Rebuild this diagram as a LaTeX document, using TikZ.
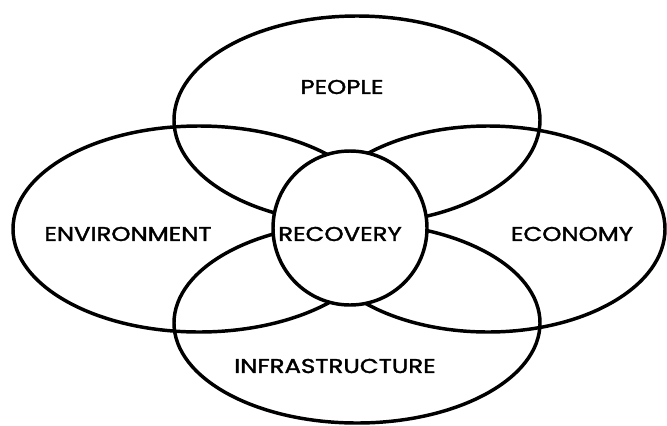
\documentclass[tikz,border=0pt]{standalone}
\usepackage{fontspec}
\setmainfont{Poppins}
\newfontfamily\lblfont{Poppins}[FakeBold=1.6]
\usetikzlibrary{shapes.geometric}

\begin{document}
\begin{tikzpicture}[x=0.75pt, y=-0.75pt,
    ring/.style={draw, line width=2.6pt, ellipse, inner sep=0pt},
    lbl/.style={font=\lblfont\fontsize{15}{17}\selectfont, inner sep=0pt, xscale=1.22, transform shape}]
  \useasboundingbox (0,0) rectangle (667,425);

  % outer ellipses
  \node[ring, minimum width=274.5pt, minimum height=156pt] (people) at (357,120) {};
  \node[ring, minimum width=274.5pt, minimum height=150pt] (infra) at (357,323) {};
  \node[ring, minimum width=279pt, minimum height=154.5pt] (env) at (199,229) {};
  \node[ring, minimum width=265.5pt, minimum height=154.5pt] (econ) at (488,229) {};

  % centre circle
  \node[ring, circle, fill=white, minimum size=115.5pt] (recovery) at (350,228) {};

  % labels
  \node[lbl] (peopletxt) at (342,87) {PEOPLE};
  \node[lbl] (envtxt) at (128,234) {ENVIRONMENT};
  \node[lbl] (rectxt) at (340,234) {RECOVERY};
  \node[lbl] (econtxt) at (572,234) {ECONOMY};
  \node[lbl] (infratxt) at (335,366) {INFRASTRUCTURE};
\end{tikzpicture}
\end{document}
